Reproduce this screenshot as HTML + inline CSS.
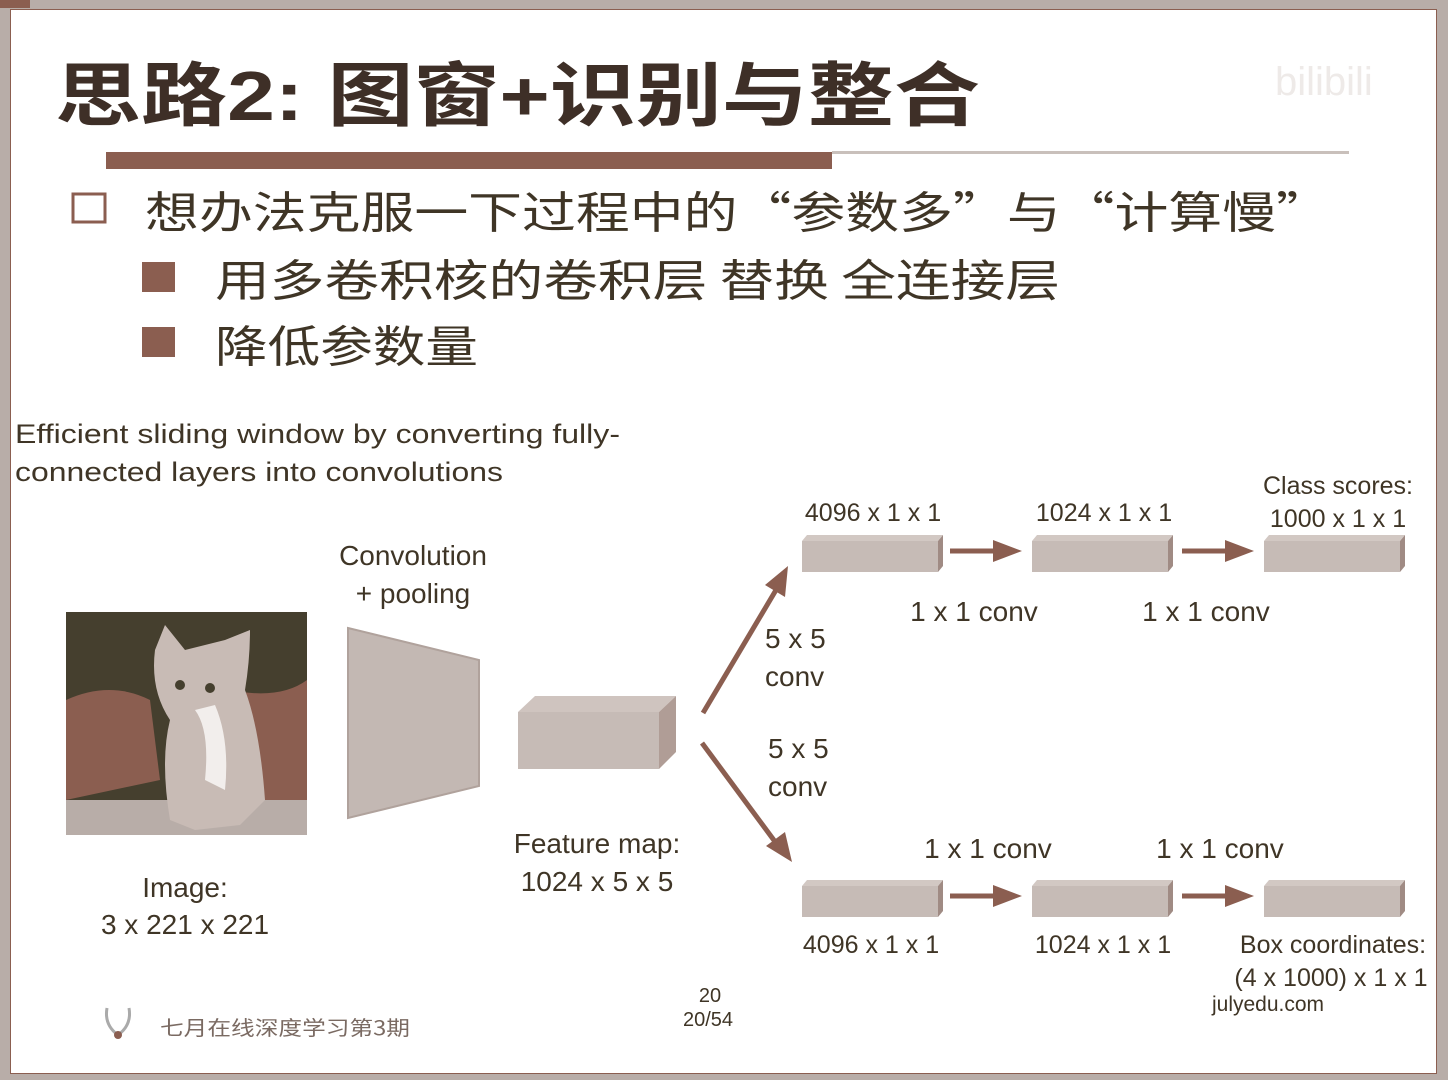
<!DOCTYPE html>
<html><head><meta charset="utf-8"><style>
html,body{margin:0;padding:0;background:#fff;}
svg{display:block;}
</style></head><body>
<svg width="1448" height="1080" viewBox="0 0 1448 1080" xmlns="http://www.w3.org/2000/svg">
<!-- frame -->
<rect x="0" y="0" width="1448" height="1080" fill="#b8ada8"/>
<rect x="0" y="0" width="30" height="8" fill="#8b5e50"/>
<rect x="10" y="9" width="1427" height="1065" fill="#8b5e50"/>
<rect x="11" y="10" width="1425" height="1063" fill="#fff"/>

<!-- title -->
<text x="55" y="120" font-family="'Liberation Sans','Noto Sans CJK SC',sans-serif" font-size="70" fill="#3e2f27" font-weight="bold" textLength="925" lengthAdjust="spacingAndGlyphs">思路2: 图窗+识别与整合</text>
<text x="1275" y="95" font-family="'Liberation Sans',sans-serif" font-size="40" fill="#eeeae8">bilibili</text>
<rect x="106" y="152" width="726" height="17" fill="#8b5e50"/>
<rect x="832" y="151" width="517" height="3" fill="#c9c0bb"/>

<!-- bullets -->
<rect x="73" y="194" width="32" height="28" fill="none" stroke="#8b5e50" stroke-width="3"/>
<text x="145" y="228" font-family="'Noto Sans CJK SC',sans-serif" font-size="44" fill="#3f3526" textLength="1185" lengthAdjust="spacingAndGlyphs">想办法克服一下过程中的“参数多”与“计算慢”</text>
<rect x="142" y="262" width="33" height="30" fill="#8b5e50"/>
<text x="215" y="296" font-family="'Noto Sans CJK SC',sans-serif" font-size="44" fill="#3f3526" textLength="845" lengthAdjust="spacingAndGlyphs">用多卷积核的卷积层 替换 全连接层</text>
<rect x="142" y="327" width="33" height="30" fill="#8b5e50"/>
<text x="215" y="362" font-family="'Noto Sans CJK SC',sans-serif" font-size="44" fill="#3f3526" textLength="263" lengthAdjust="spacingAndGlyphs">降低参数量</text>

<g font-family="'Liberation Sans',sans-serif" fill="#3f3526">
<text x="15" y="443" font-size="27" textLength="605" lengthAdjust="spacingAndGlyphs">Efficient sliding window by converting fully-</text>
<text x="15" y="481" font-size="27" textLength="488" lengthAdjust="spacingAndGlyphs">connected layers into convolutions</text>

<text x="413" y="565" font-size="28" text-anchor="middle">Convolution</text>
<text x="413" y="603" font-size="28" text-anchor="middle">+ pooling</text>
<text x="185" y="897" font-size="28" text-anchor="middle">Image:</text>
<text x="185" y="934" font-size="28" text-anchor="middle">3 x 221 x 221</text>
<text x="597" y="853" font-size="28" text-anchor="middle">Feature map:</text>
<text x="597" y="891" font-size="28" text-anchor="middle">1024 x 5 x 5</text>

<text x="765" y="648" font-size="28">5 x 5</text>
<text x="765" y="686" font-size="28">conv</text>
<text x="768" y="758" font-size="28">5 x 5</text>
<text x="768" y="796" font-size="28">conv</text>

<text x="873" y="521" font-size="25" text-anchor="middle">4096 x 1 x 1</text>
<text x="1104" y="521" font-size="25" text-anchor="middle">1024 x 1 x 1</text>
<text x="1338" y="494" font-size="25" text-anchor="middle">Class scores:</text>
<text x="1338" y="527" font-size="25" text-anchor="middle">1000 x 1 x 1</text>
<text x="974" y="621" font-size="28" text-anchor="middle">1 x 1 conv</text>
<text x="1206" y="621" font-size="28" text-anchor="middle">1 x 1 conv</text>

<text x="988" y="858" font-size="28" text-anchor="middle">1 x 1 conv</text>
<text x="1220" y="858" font-size="28" text-anchor="middle">1 x 1 conv</text>
<text x="871" y="953" font-size="25" text-anchor="middle">4096 x 1 x 1</text>
<text x="1103" y="953" font-size="25" text-anchor="middle">1024 x 1 x 1</text>
<text x="1333" y="953" font-size="25" text-anchor="middle">Box coordinates:</text>
<text x="1331" y="986" font-size="25" text-anchor="middle">(4 x 1000) x 1 x 1</text>

<text x="710" y="1002" font-size="20" text-anchor="middle">20</text>
<text x="708" y="1026" font-size="20" text-anchor="middle">20/54</text>
<text x="1268" y="1011" font-size="21" text-anchor="middle">julyedu.com</text>
</g>
<text x="160" y="1035" font-family="'Noto Sans CJK SC',sans-serif" font-size="20" fill="#7a6a62" textLength="250" lengthAdjust="spacingAndGlyphs">七月在线深度学习第3期</text>
<path d="M107 1008 Q104 1025 118 1035 Q132 1025 129 1008" fill="none" stroke="#aaa" stroke-width="3"/>
<circle cx="118" cy="1035" r="4" fill="#8b5e50"/>

<!-- cat image -->
<rect x="66" y="612" width="241" height="223" fill="#453f2e"/>
<path d="M66 700 Q110 680 150 700 L160 780 L66 800 Z" fill="#8b5e50"/>
<path d="M230 690 Q280 700 307 680 L307 800 L240 800 Z" fill="#8b5e50"/>
<path d="M66 800 L307 800 L307 835 L66 835 Z" fill="#b8ada8"/>
<path d="M155 650 L165 625 L185 650 Q205 645 225 640 L250 630 Q250 660 245 690 Q260 730 265 800 L240 825 L195 830 L170 820 Q160 760 170 720 Q150 690 155 650 Z" fill="#c8bbb5"/>
<circle cx="180" cy="685" r="5" fill="#453f2e"/>
<circle cx="210" cy="688" r="5" fill="#453f2e"/>
<path d="M195 710 Q210 730 205 780 L225 790 Q230 740 215 705 Z" fill="#f2eeec"/>

<!-- trapezoid -->
<polygon points="348,628 479,660 479,786 348,818" fill="#c3b8b3" stroke="#b0a29c" stroke-width="2"/>

<!-- feature map box -->
<polygon points="518,712 535,696 676,696 659,712" fill="#cfc4bf"/>
<polygon points="659,712 676,696 676,752 659,769" fill="#b09d96"/>
<rect x="518" y="712" width="141" height="57" fill="#c6bbb6"/>

<!-- small boxes -->
<g fill="#c6bbb6">
<polygon points="802,541 807,535 943,535 938,541" fill="#d2c8c3"/>
<polygon points="938,541 943,535 943,566 938,572" fill="#a08b84"/>
<rect x="802" y="541" width="136" height="31"/>
<polygon points="1032,541 1037,535 1173,535 1168,541" fill="#d2c8c3"/>
<polygon points="1168,541 1173,535 1173,566 1168,572" fill="#a08b84"/>
<rect x="1032" y="541" width="136" height="31"/>
<polygon points="1264,541 1269,535 1405,535 1400,541" fill="#d2c8c3"/>
<polygon points="1400,541 1405,535 1405,566 1400,572" fill="#a08b84"/>
<rect x="1264" y="541" width="136" height="31"/>

<polygon points="802,886 807,880 943,880 938,886" fill="#d2c8c3"/>
<polygon points="938,886 943,880 943,911 938,917" fill="#a08b84"/>
<rect x="802" y="886" width="136" height="31"/>
<polygon points="1032,886 1037,880 1173,880 1168,886" fill="#d2c8c3"/>
<polygon points="1168,886 1173,880 1173,911 1168,917" fill="#a08b84"/>
<rect x="1032" y="886" width="136" height="31"/>
<polygon points="1264,886 1269,880 1405,880 1400,886" fill="#d2c8c3"/>
<polygon points="1400,886 1405,880 1405,911 1400,917" fill="#a08b84"/>
<rect x="1264" y="886" width="136" height="31"/>
</g>

<!-- arrows -->
<g stroke="#8b5e50" stroke-width="5" fill="#8b5e50">
<line x1="950" y1="551" x2="995" y2="551"/>
<line x1="1182" y1="551" x2="1227" y2="551"/>
<line x1="950" y1="896" x2="995" y2="896"/>
<line x1="1182" y1="896" x2="1227" y2="896"/>
<line x1="703" y1="713" x2="776" y2="590"/>
<line x1="702" y1="743" x2="776" y2="843"/>
</g>
<g fill="#8b5e50">
<polygon points="993,540 1022,551 993,562"/>
<polygon points="1225,540 1254,551 1225,562"/>
<polygon points="993,885 1022,896 993,907"/>
<polygon points="1225,885 1254,896 1225,907"/>
<polygon points="788,566 765,585 785,597"/>
<polygon points="792,862 766,846 785,832"/>
</g>
</svg>
</body></html>
